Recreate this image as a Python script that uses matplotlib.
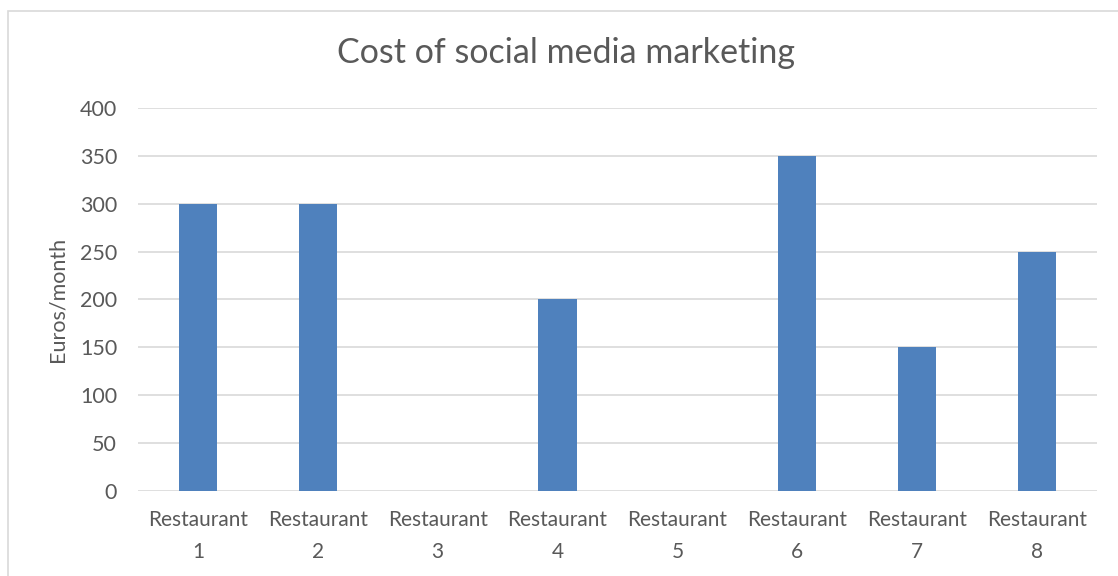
import matplotlib.pyplot as plt
from matplotlib.patches import Rectangle

# monthly spend per restaurant
restaurants = ["Restaurant\n1", "Restaurant\n2", "Restaurant\n3", "Restaurant\n4",
               "Restaurant\n5", "Restaurant\n6", "Restaurant\n7", "Restaurant\n8"]
cost = [300, 300, 0, 200, 0, 350, 150, 250]
y_ticks = [0, 50, 100, 150, 200, 250, 300, 350, 400]

plt.rcParams['font.family'] = ['Lato', 'DejaVu Sans']
text_grey = "#595959"
grid_grey = "#D9D9D9"

fig = plt.figure(figsize=(11.18, 5.76), dpi=100)
ax = fig.add_axes([0.1234, 0.1476, 0.8578, 0.665])

x = range(len(restaurants))
ax.bar(x, cost, width=0.32, color="#4F81BD", zorder=3)

ax.set_xlim(-0.5, len(restaurants) - 0.5)
ax.set_ylim(0, 400)
ax.set_yticks(y_ticks)
ax.set_xticks(list(x))
ax.set_xticklabels(restaurants, fontsize=15, color=text_grey, linespacing=1.75)
ax.tick_params(axis="y", labelsize=15.5, labelcolor=text_grey, length=0, pad=15)
ax.tick_params(axis="x", length=0, pad=14)
ax.grid(axis="y", color=grid_grey, linewidth=1.2, zorder=0)
for s in ax.spines.values():
    s.set_visible(False)

ax.set_ylabel("Euros/month", fontsize=15.5, color=text_grey)
ax.yaxis.set_label_coords(-0.073, 0.5)
fig.text(0.506, 0.908, "Cost of social media marketing", ha="center", va="center",
         fontsize=24.5, color=text_grey)

# chart frame
fig.patches.append(Rectangle((8 / 1118, -0.1), 1.2, 1 - 11 / 576 + 0.1,
                             transform=fig.transFigure, fill=False,
                             edgecolor=grid_grey, linewidth=1.2))

fig.savefig("out.png", dpi=100)
